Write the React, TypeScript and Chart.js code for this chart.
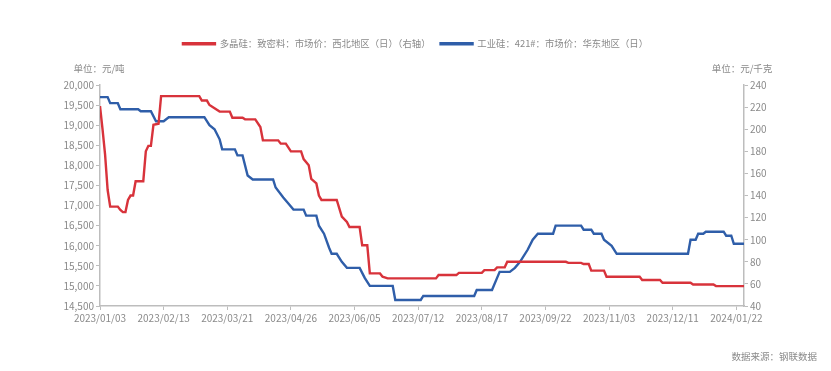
import { useEffect, useRef } from 'react';
import { Chart, registerables } from 'chart.js';

Chart.register(...registerables);

// ---- data ----
const xTickIndex = [0, 25, 50, 75, 100, 125, 150, 175, 200, 225, 250];
const xTickLabels = [
  '2023/01/03', '2023/02/13', '2023/03/21', '2023/04/26', '2023/06/05', '2023/07/12',
  '2023/08/17', '2023/09/22', '2023/11/03', '2023/12/11', '2024/01/22',
];
const xMaxIndex = 253;

const seriesRedName = '多晶硅：致密料：市场价：西北地区（日）（右轴）';
const seriesBlueName = '工业硅：421#：市场价：华东地区（日）';
const leftUnit = '单位：元/吨';
const rightUnit = '单位：元/千克';
const sourceText = '数据来源：钢联数据';

// trading-day index / value pairs (工业硅, 元/吨, left axis)
const blueIdx = [0, 3, 4, 7, 8, 15, 16, 20, 22, 25, 27, 41, 43, 45, 47, 48, 53, 54, 56, 58, 60, 68, 69, 72, 74, 76, 80, 81, 85, 86, 88, 90, 91, 93, 95, 97, 102, 104, 106, 115, 116, 126, 127, 147, 148, 154, 156, 157, 161, 163, 165, 168, 170, 172, 178, 179, 189, 190, 193, 194, 197, 198, 201, 203, 231, 232, 234, 235, 237, 238, 245, 246, 248, 249, 253];
const blueVal = [19700, 19700, 19550, 19550, 19400, 19400, 19350, 19350, 19100, 19100, 19200, 19200, 19000, 18900, 18650, 18400, 18400, 18250, 18250, 17750, 17650, 17650, 17450, 17200, 17050, 16900, 16900, 16750, 16750, 16500, 16300, 15950, 15800, 15800, 15600, 15450, 15450, 15200, 15000, 15000, 14650, 14650, 14750, 14750, 14900, 14900, 15200, 15350, 15350, 15450, 15600, 15900, 16150, 16300, 16300, 16500, 16500, 16400, 16400, 16300, 16300, 16150, 16000, 15800, 15800, 16150, 16150, 16300, 16300, 16350, 16350, 16250, 16250, 16050, 16050];

// (多晶硅, 元/千克, right axis)
const redIdx = [0, 1, 2, 3, 4, 7, 8, 9, 10, 11, 12, 13, 14, 17, 18, 19, 20, 21, 23, 24, 39, 40, 42, 43, 45, 47, 51, 52, 56, 57, 61, 63, 64, 70, 71, 73, 75, 79, 80, 82, 83, 85, 86, 87, 93, 95, 97, 98, 102, 103, 105, 106, 110, 111, 113, 132, 133, 140, 141, 150, 151, 155, 156, 159, 160, 183, 184, 189, 190, 192, 193, 198, 199, 212, 213, 220, 221, 232, 233, 241, 242, 253];
const redVal = [221, 200, 177, 145, 130, 130, 127, 125, 125, 136, 140, 140, 153, 153, 180, 185, 185, 204, 205, 230, 230, 226, 226, 222, 219, 216, 216, 210.5, 210.5, 209, 209, 202, 190, 190, 187, 187, 180, 180, 173, 167.5, 155, 151, 140, 136, 136, 121, 116, 111.5, 111.5, 95, 95, 69.5, 69.5, 66.5, 65, 65, 68, 68, 70, 70, 72.5, 72.5, 75, 75, 80, 80, 79, 79, 78, 78, 72, 72, 66.5, 66.5, 63.5, 63.5, 61, 61, 59.5, 59.5, 58, 58];

const leftMin = 14500, leftMax = 20000, leftStep = 500;
const rightMin = 40, rightMax = 240, rightStep = 20;

// ---- style ----
const FONT = '"Noto Sans CJK SC", "Noto Sans", sans-serif';
const RED = '#d8333b';
const BLUE = '#2f5ea9';
const TEXT = '#8a8a8a';
const AXIS = '#bdbdbd';

const textPlugin = {
  id: 'extraText',
  afterDraw(chart: any) {
    const { ctx, chartArea } = chart;
    ctx.save();
    ctx.font = `9.5px ${FONT}`;
    ctx.fillStyle = TEXT;
    ctx.textBaseline = 'middle';
    ctx.textAlign = 'center';
    ctx.fillText(leftUnit, chartArea.left - 1, chartArea.top - 17);
    ctx.fillText(rightUnit, chartArea.right - 2, chartArea.top - 17);
    ctx.textAlign = 'right';
    ctx.fillText(sourceText, chart.width - 14, chart.height - 15);
    ctx.restore();
  },
};

export default function App() {
  const ref = useRef<HTMLCanvasElement>(null);
  useEffect(() => {
    const chart = new Chart(ref.current!, {
      type: 'line',
      data: {
        datasets: [
          {
            label: seriesRedName,
            data: redIdx.map((x, i) => ({ x, y: redVal[i] })),
            borderColor: RED,
            backgroundColor: RED,
            borderWidth: 2.4,
            pointRadius: 0,
            tension: 0,
            yAxisID: 'y1',
          },
          {
            label: seriesBlueName,
            data: blueIdx.map((x, i) => ({ x, y: blueVal[i] })),
            borderColor: BLUE,
            backgroundColor: BLUE,
            borderWidth: 2.4,
            pointRadius: 0,
            tension: 0,
            yAxisID: 'y',
          },
        ],
      },
      options: {
        animation: false,
        responsive: true,
        maintainAspectRatio: false,
        layout: { padding: { top: 29, left: 0, right: 0, bottom: 43 } },
        plugins: {
          legend: {
            position: 'top',
            weight: 3000,
            labels: {
              boxWidth: 32,
              boxHeight: 1,
              padding: 10,
              color: TEXT,
              font: { family: FONT, size: 9.4 },
            },
          },
          // empty spacer between the legend and the plot area
          title: {
            display: true,
            text: '',
            font: { size: 1, lineHeight: 1 },
            padding: { top: 0, bottom: 25.7 },
          },
          tooltip: { enabled: false },
        },
        scales: {
          x: {
            type: 'linear',
            min: 0,
            max: xMaxIndex,
            afterBuildTicks: (s: any) => {
              s.ticks = xTickIndex.map((v) => ({ value: v }));
            },
            afterFit: (s: any) => {
              s.height = 22;
            },
            ticks: {
              autoSkip: false,
              maxRotation: 0,
              padding: 2,
              color: TEXT,
              font: { family: FONT, size: 10 },
              callback: (v: any) => {
                const k = xTickIndex.indexOf(Number(v));
                return k >= 0 ? xTickLabels[k] : '';
              },
            },
            grid: { drawOnChartArea: false, tickLength: 4, color: AXIS },
            border: { color: AXIS, width: 1.5 },
          },
          y: {
            position: 'left',
            min: leftMin,
            max: leftMax,
            afterFit: (s: any) => {
              s.width = 100;
            },
            ticks: {
              stepSize: leftStep,
              padding: 2,
              color: TEXT,
              font: { family: FONT, size: 10 },
              callback: (v: any) => Number(v).toLocaleString('en-US'),
            },
            grid: { drawOnChartArea: false, tickLength: 4, color: AXIS },
            border: { color: AXIS, width: 1.5 },
          },
          y1: {
            position: 'right',
            min: rightMin,
            max: rightMax,
            afterFit: (s: any) => {
              s.width = 87;
            },
            ticks: {
              stepSize: rightStep,
              padding: 2,
              color: TEXT,
              font: { family: FONT, size: 10 },
            },
            grid: { drawOnChartArea: false, tickLength: 4, color: AXIS },
            border: { color: AXIS, width: 1.5 },
          },
        },
      },
      plugins: [textPlugin],
    });
    return () => chart.destroy();
  }, []);
  return (
    <div style={{ position: 'absolute', left: 0, top: 0, width: 831, height: 371 }}>
      <canvas ref={ref} />
    </div>
  );
}
